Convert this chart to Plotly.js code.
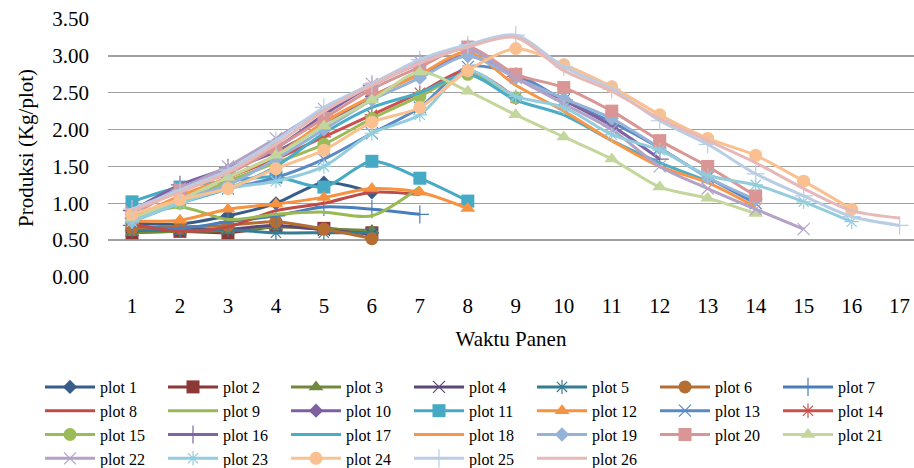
<!DOCTYPE html>
<html><head><meta charset="utf-8">
<script src="https://cdn.plot.ly/plotly-3.0.1.min.js"></script>
<style>html,body{margin:0;padding:0;background:#fff;overflow:hidden}#chart{width:914px;height:468px}</style>
</head><body><div id="chart"></div>
<script>
// Category labels (Waktu Panen)
const xLabels = ['1','2','3','4','5','6','7','8','9','10','11','12','13','14','15','16','17'];
const yTicks = [0, 0.5, 1, 1.5, 2, 2.5, 3, 3.5];

// Series values (Produksi, Kg/plot), one per harvest time starting at 1
const plot1  = [0.73, 0.72, 0.83, 1.00, 1.28, 1.15];
const plot2  = [0.60, 0.62, 0.60, 0.68, 0.66, 0.60];
const plot3  = [0.60, 0.62, 0.63, 0.68, 0.65, 0.63];
const plot4  = [0.68, 0.65, 0.65, 0.70, 0.64, 0.58];
const plot5  = [0.63, 0.63, 0.64, 0.60, 0.60, 0.60];
const plot6  = [0.66, 0.68, 0.70, 0.75, 0.65, 0.52];
const plot7  = [0.70, 0.66, 0.75, 0.83, 0.95, 0.92, 0.85];
const plot8  = [0.72, 0.62, 0.68, 0.90, 1.00, 1.15, 1.12];
const plot9  = [0.80, 0.95, 0.78, 0.85, 0.88, 0.83, 1.22];
const plot10 = [0.85, 1.20, 1.45, 1.70, 2.05, 2.45, 2.75, 3.00, 2.72, 2.40];
const plot11 = [1.02, 1.22, 1.30, 1.36, 1.22, 1.57, 1.34, 1.03];
const plot12 = [0.76, 0.77, 0.92, 0.99, 1.08, 1.20, 1.15, 0.93];
const plot13 = [0.80, 1.05, 1.20, 1.35, 1.60, 1.95, 2.30, 2.85, 2.75, 2.40, 2.10, 1.75, 1.35, 1.00];
const plot14 = [0.80, 1.05, 1.35, 1.60, 1.90, 2.20, 2.50, 2.80, 2.43];
const plot15 = [0.78, 1.00, 1.30, 1.55, 1.80, 2.15, 2.45, 2.75, 2.43];
const plot16 = [0.90, 1.25, 1.48, 1.75, 2.20, 2.60, 2.90, 3.10, 2.72, 2.40, 2.05, 1.60];
const plot17 = [0.75, 1.00, 1.20, 1.50, 1.95, 2.30, 2.50, 2.75, 2.40, 2.20, 1.85, 1.55, 1.30];
const plot18 = [0.80, 1.10, 1.35, 1.65, 2.10, 2.45, 2.75, 3.05, 2.60, 2.25, 1.85, 1.50, 1.28, 0.95];
const plot19 = [0.75, 1.05, 1.25, 1.60, 2.00, 2.40, 2.70, 3.00, 2.70, 2.42, 2.15, 1.75, 1.35, 1.05];
const plot20 = [0.85, 1.18, 1.40, 1.75, 2.15, 2.55, 2.85, 3.12, 2.75, 2.57, 2.25, 1.85, 1.50, 1.10];
const plot21 = [0.80, 1.05, 1.35, 1.65, 2.05, 2.40, 2.78, 2.52, 2.20, 1.90, 1.60, 1.22, 1.07, 0.86];
const plot22 = [0.88, 1.20, 1.50, 1.88, 2.28, 2.62, 2.92, 3.10, 2.70, 2.35, 2.00, 1.50, 1.20, 0.92, 0.65];
const plot23 = [0.75, 1.00, 1.20, 1.30, 1.50, 1.95, 2.20, 2.80, 2.45, 2.30, 1.93, 1.72, 1.38, 1.25, 1.02, 0.75];
const plot24 = [0.85, 1.05, 1.20, 1.47, 1.72, 2.10, 2.30, 2.80, 3.10, 2.88, 2.58, 2.20, 1.88, 1.65, 1.30, 0.92];
const plot25 = [0.92, 1.18, 1.45, 1.85, 2.30, 2.62, 2.95, 3.15, 3.28, 2.85, 2.55, 2.12, 1.80, 1.40, 1.10, 0.82, 0.70];
const plot26 = [0.90, 1.15, 1.42, 1.80, 2.25, 2.60, 2.90, 3.12, 3.25, 2.80, 2.52, 2.15, 1.85, 1.55, 1.20, 0.90, 0.80];

const seriesNames = ['plot 1','plot 2','plot 3','plot 4','plot 5','plot 6','plot 7','plot 8','plot 9','plot 10',
  'plot 11','plot 12','plot 13','plot 14','plot 15','plot 16','plot 17','plot 18','plot 19','plot 20',
  'plot 21','plot 22','plot 23','plot 24','plot 25','plot 26'];
const seriesValues = [plot1,plot2,plot3,plot4,plot5,plot6,plot7,plot8,plot9,plot10,plot11,plot12,plot13,
  plot14,plot15,plot16,plot17,plot18,plot19,plot20,plot21,plot22,plot23,plot24,plot25,plot26];

// Styles
const colors = ['#385D8A','#8C3836','#71893F','#5C4776','#357D91','#B66D31','#4A7EBB','#BE4B48','#98B954','#7D60A0',
  '#46AAC5','#F69240','#5A8AC6','#CC504D','#9BBB59','#8064A2','#4BACC6','#F79646','#95B3D7','#D99694',
  '#C3D69B','#B3A2C7','#93CDDD','#FAC090','#B9CDE5','#E6B9B8'];
const symbolCycle = ['diamond','square','triangle-up','x-thin-open','asterisk-open','circle','cross-thin-open',null,null];
const sizeCycle = [11, 13, 13, 12, 12, 13, 13, 0, 0];

const traces = seriesValues.map((vals, i) => {
  const sym = symbolCycle[i % 9];
  const t = {
    type: 'scatter',
    name: seriesNames[i],
    x: vals.map((v, k) => k + 1),
    y: vals,
    mode: sym ? 'lines+markers' : 'lines',
    line: {color: colors[i], width: 3, shape: 'spline', smoothing: 0.8},
    hoverinfo: 'name+y'
  };
  if (sym) {
    const open = sym.indexOf('open') >= 0;
    t.marker = {
      symbol: sym, size: sizeCycle[i % 9], color: colors[i],
      line: {color: colors[i], width: open ? 1.2 : 0}
    };
  }
  return t;
});

const serif = "'Liberation Serif', 'Times New Roman', Times, serif";
const layout = {
  width: 914, height: 468,
  margin: {l: 108, r: 0, t: 19, b: 191, pad: 0, autoexpand: false},
  paper_bgcolor: '#ffffff', plot_bgcolor: '#ffffff',
  font: {family: serif, color: '#000000', size: 18},
  showlegend: true,
  xaxis: {
    range: [0.5, 17.3],
    tickmode: 'array',
    tickvals: xLabels.map((s, i) => i + 1),
    ticktext: xLabels,
    showgrid: false, zeroline: false, showline: false,
    ticks: '', ticklabelstandoff: 14,
    tickfont: {family: serif, size: 21, color: '#000'},
    title: {text: 'Waktu Panen', font: {family: serif, size: 21, color: '#000'}, standoff: 14}
  },
  yaxis: {
    range: [0, 3.5],
    tickmode: 'array',
    tickvals: yTicks,
    ticktext: yTicks.map(v => v.toFixed(2)),
    showgrid: true, gridcolor: '#A0A0A0', gridwidth: 1.3,
    zeroline: false, showline: false, ticks: '', ticklabelstandoff: 18,
    tickfont: {family: serif, size: 21, color: '#000'},
    title: {text: 'Produksi (Kg/plot)', font: {family: serif, size: 21, color: '#000'}, standoff: 12}
  },
  legend: {
    orientation: 'h',
    xref: 'paper', yref: 'paper',
    x: (40 - 108) / 806, xanchor: 'left',
    y: (277 - 370) / 258, yanchor: 'top',
    entrywidth: 58, entrywidthmode: 'pixels',
    itemwidth: 50,
    traceorder: 'normal',
    font: {family: serif, size: 16, color: '#000'},
    bgcolor: 'rgba(0,0,0,0)', borderwidth: 0,
    tracegroupgap: 0
  }
};

Plotly.newPlot('chart', traces, layout, {displayModeBar: false, staticPlot: true});
</script></body></html>
